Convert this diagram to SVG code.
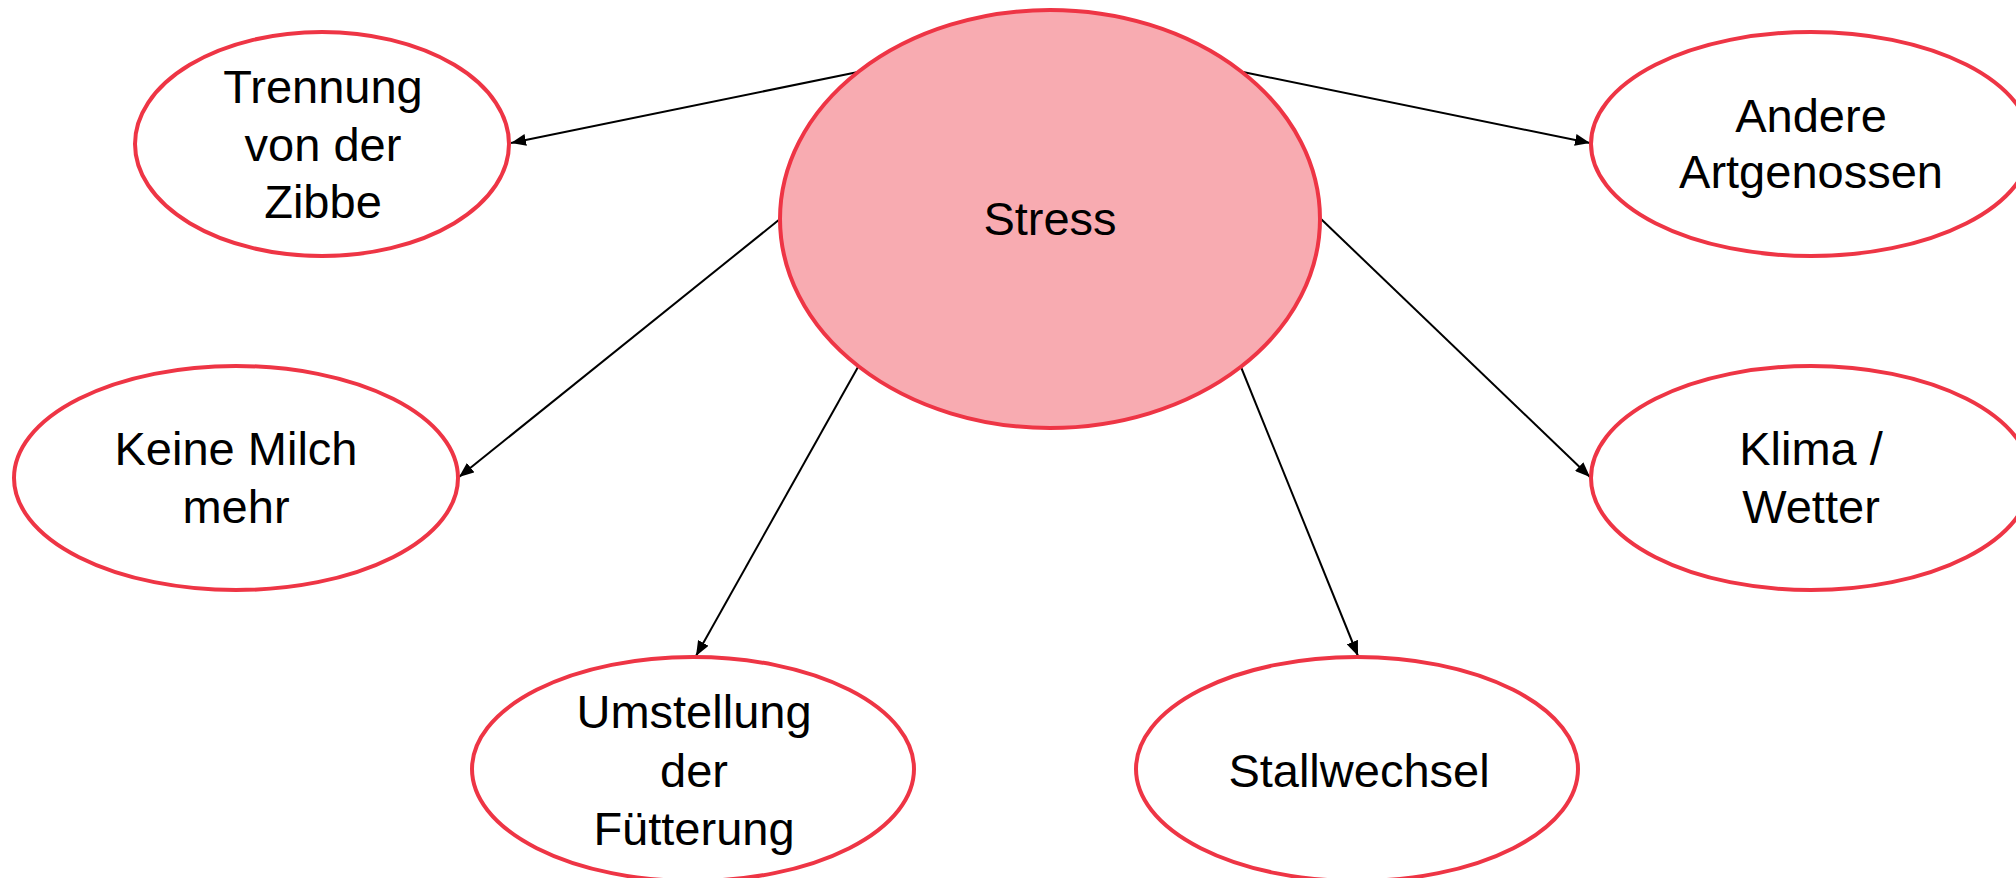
<svg xmlns="http://www.w3.org/2000/svg" width="2016" height="878" viewBox="0 0 2016 878">
<style>
.node{fill:#ffffff;stroke:#EE3545;stroke-width:4}
.center{fill:#F8ABB1;stroke:#EE3545;stroke-width:4}
.lbl{font-family:"Liberation Sans",Arial,sans-serif;font-size:47px;fill:#000;text-anchor:middle}
.edge{stroke:#000;stroke-width:2;fill:none;marker-end:url(#arr)}
</style>
<defs>
<marker id="arr" markerUnits="userSpaceOnUse" markerWidth="16" markerHeight="12" refX="15" refY="6" orient="auto">
<path d="M0,0 L15,6 L0,12 z" fill="#000"/>
</marker>
</defs>
<rect width="2016" height="878" fill="#ffffff"/>
<g id="connectors">
<line class="edge" x1="858" y1="72" x2="511" y2="143"/>
<line class="edge" x1="1243" y1="72" x2="1590" y2="143"/>
<line class="edge" x1="780" y1="219" x2="459" y2="477"/>
<line class="edge" x1="858" y1="367" x2="696" y2="656"/>
<line class="edge" x1="1241" y1="367" x2="1358" y2="656"/>
<line class="edge" x1="1321" y1="219" x2="1590" y2="477"/>
</g>
<g id="stress">
<ellipse class="center" cx="1050" cy="219" rx="270" ry="209"/>
<text class="lbl" x="1050" y="235">Stress</text>
</g>
<g id="trennung">
<ellipse class="node" cx="322" cy="144" rx="187" ry="112"/>
<text class="lbl" x="323" y="103">Trennung</text>
<text class="lbl" x="323" y="161">von der</text>
<text class="lbl" x="323" y="218">Zibbe</text>
</g>
<g id="andere">
<ellipse class="node" cx="1811" cy="144" rx="220" ry="112"/>
<text class="lbl" x="1811" y="132">Andere</text>
<text class="lbl" x="1811" y="188">Artgenossen</text>
</g>
<g id="keine-milch">
<ellipse class="node" cx="236" cy="478" rx="222" ry="112"/>
<text class="lbl" x="236" y="465">Keine Milch</text>
<text class="lbl" x="236" y="523">mehr</text>
</g>
<g id="klima">
<ellipse class="node" cx="1811" cy="478" rx="220" ry="112"/>
<text class="lbl" x="1811" y="465">Klima /</text>
<text class="lbl" x="1811" y="523">Wetter</text>
</g>
<g id="umstellung">
<ellipse class="node" cx="693" cy="769" rx="221" ry="112"/>
<text class="lbl" x="694" y="728">Umstellung</text>
<text class="lbl" x="694" y="787">der</text>
<text class="lbl" x="694" y="845">Fütterung</text>
</g>
<g id="stallwechsel">
<ellipse class="node" cx="1357" cy="769" rx="221" ry="112"/>
<text class="lbl" x="1359" y="787">Stallwechsel</text>
</g>
</svg>
